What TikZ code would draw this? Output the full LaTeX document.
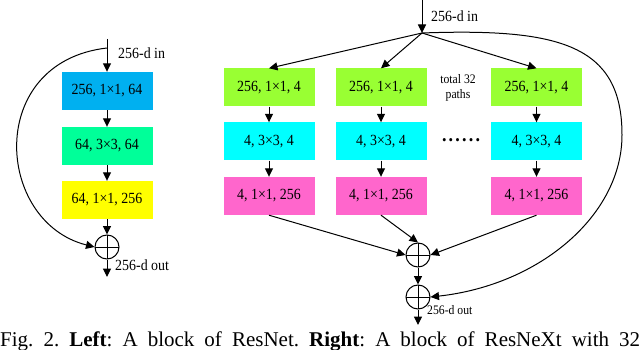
\documentclass[tikz,border=0pt]{standalone}
\usepackage{fontspec}
\setmainfont{Liberation Serif}[FakeStretch=0.9]
\newfontfamily\capfont{Liberation Serif}
\usetikzlibrary{arrows.meta,calc}
\definecolor{cblue}{HTML}{00B0F0}
\definecolor{cmint}{HTML}{00FF99}
\definecolor{cyel}{HTML}{FFFF00}
\definecolor{cgreen}{HTML}{99FF33}
\definecolor{ccyan}{HTML}{00FFFF}
\definecolor{cpink}{HTML}{FF66CC}
\begin{document}
\begin{tikzpicture}[x=1pt,y=-1pt,
  layer/.style={minimum width=91pt,minimum height=38pt,inner sep=0pt,font=\fontsize{15.5}{18}\selectfont},
  sumnode/.style={circle,draw,line width=1pt,minimum size=24pt,inner sep=0pt,
    path picture={\draw[line width=1pt] (path picture bounding box.north) -- (path picture bounding box.south)
      (path picture bounding box.west) -- (path picture bounding box.east);}},
  arr/.style={-{Triangle[length=8.5pt,width=8pt]},line width=1pt},
  lbl/.style={font=\fontsize{15.5}{18}\selectfont,inner sep=0pt},
  slbl/.style={font=\fontsize{13}{15}\selectfont,inner sep=0pt}
]
\useasboundingbox (0,0) rectangle (640,350);
% ---------- left: ResNet block ----------
\coordinate (lin) at (107,39);
\coordinate (lsplit) at (107,48);
\node[layer,fill=cblue] (l1) at (107,91) {256, 1×1, 64};
\node[layer,fill=cmint] (l2) at (107,146) {64, 3×3, 64};
\node[layer,fill=cyel]  (l3) at (107,200) {64, 1×1, 256};
\node[sumnode] (ls) at (107,247) {};
\coordinate (lout) at (107,277);
\node[lbl,anchor=west] (linlbl) at (118,53) {256-d in};
\node[lbl,anchor=west] (loutlbl) at (115,265) {256-d out};
\draw[arr] (lin) -- (l1);
\draw[arr] (l1) -- (l2);
\draw[arr] (l2) -- (l3);
\draw[arr] (l3) -- (ls);
\draw[arr] (ls) -- (lout);
\draw[arr] (lsplit) .. controls (-15,62) and (-5,222) .. (ls.west);
% ---------- right: ResNeXt block ----------
\coordinate (rin) at (422,0);
\coordinate (rsplit) at (422,33);
\node[lbl,anchor=west] (rinlbl) at (431,16) {256-d in};
\foreach \c/\x in {1/269,2/381,3/536.5}{
  \node[layer,fill=cgreen] (r1\c) at (\x,87.5) {256, 1×1, 4};
  \node[layer,fill=ccyan]  (r2\c) at (\x,141.5) {4, 3×3, 4};
  \node[layer,fill=cpink]  (r3\c) at (\x,196) {4, 1×1, 256};
  \draw[arr] (r1\c) -- (r2\c);
  \draw[arr] (r2\c) -- (r3\c);
}
\node[slbl,align=center] (total) at (458,88) {total 32\\paths};
\node[inner sep=0pt,font=\fontsize{20}{22}\selectfont\bfseries] (dots) at (461,140)
  {\makebox[38pt][s]{.\hfill.\hfill.\hfill.\hfill.\hfill.}};
\node[sumnode] (rs1) at (418,255) {};
\node[sumnode] (rs2) at (418,297) {};
\coordinate (rout) at (418,325);
\node[slbl,anchor=west] (routlbl) at (427,310) {256-d out};
\draw[arr] (rin) -- (rsplit);
\draw[arr] (rsplit) -- (r11.north);
\draw[arr] (rsplit) -- (r12.north);
\draw[arr] (rsplit) -- (r13.north);
\draw[arr] (r31.south) -- (rs1.west);
\draw[arr] (r32.south) -- (rs1.north);
\draw[arr] (r33.south) -- (rs1.east);
\draw[arr] (rs1) -- (rs2);
\draw[arr] (rs2) -- (rout);
\draw[arr] (rsplit) .. controls (560,28) and (622,45) .. (622,135)
  .. controls (622,215) and (540,285) .. (rs2.east);
% ---------- caption ----------
\node[anchor=base west,inner sep=0pt,font=\capfont\fontsize{21}{24}\selectfont\frenchspacing] (cap) at (0,346)
  {\makebox[640pt][s]{Fig. 2. \textbf{Left}: A block of ResNet. \textbf{Right}: A block of ResNeXt with 32}};
\end{tikzpicture}
\end{document}
